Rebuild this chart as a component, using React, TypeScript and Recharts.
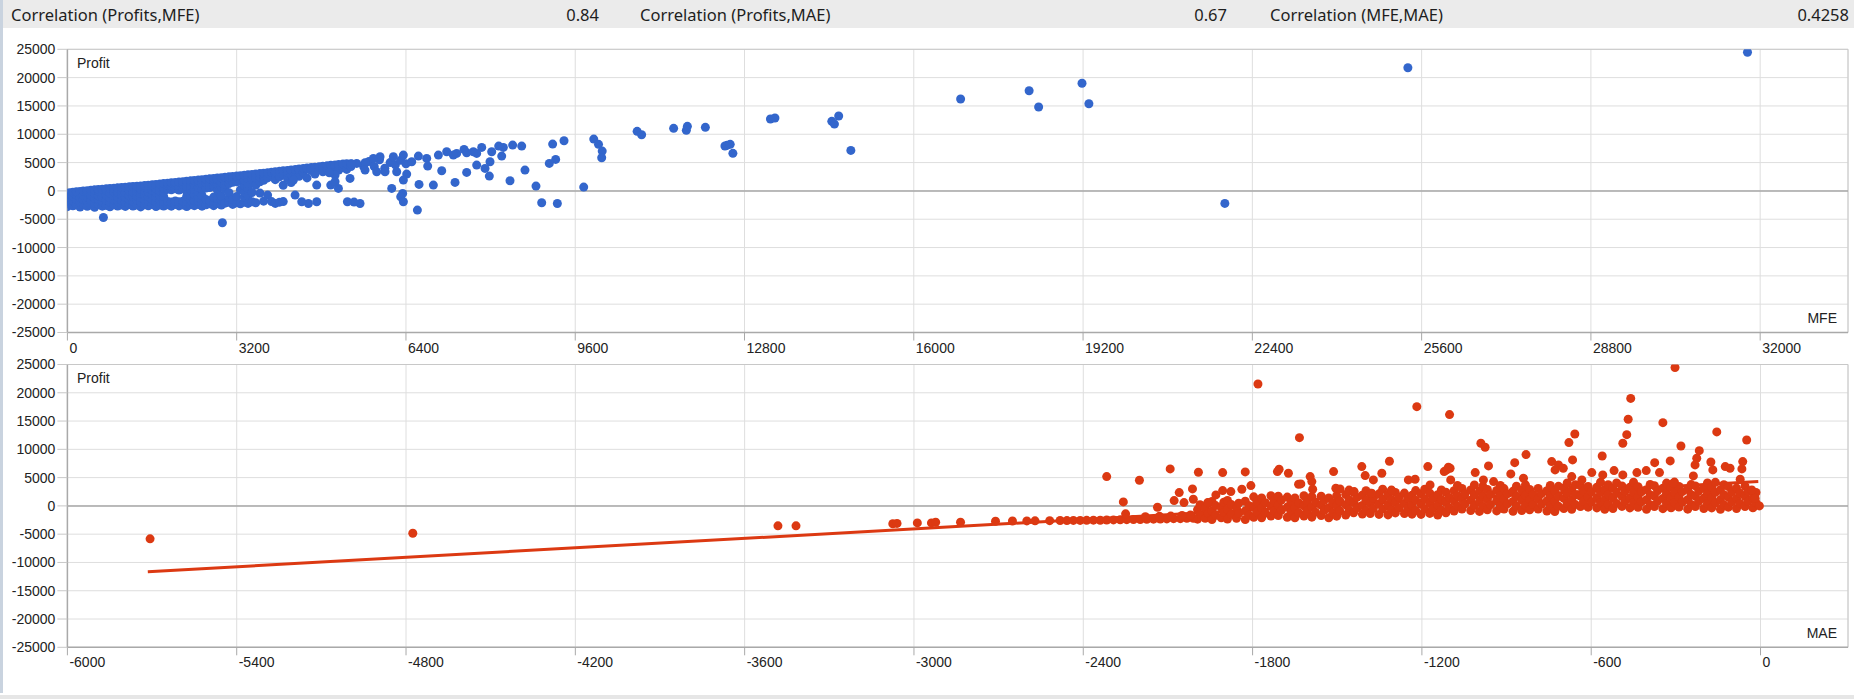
import { CartesianGrid, ReferenceLine, Scatter, ScatterChart, XAxis, YAxis } from "recharts";

const W = 1854;
const H = 699;
const BLUE = "#3366cc";
const RED = "#dc3912";
const TICK_FONT = "'Liberation Sans', Arial, sans-serif";
const HEAD_FONT = "'Noto Sans', 'Open Sans', sans-serif";

const correlations = [
  { label: "Correlation (Profits,MFE)", value: "0.84" },
  { label: "Correlation (Profits,MAE)", value: "0.67" },
  { label: "Correlation (MFE,MAE)", value: "0.4258" },
];

const profitTicks = [-25000, -20000, -15000, -10000, -5000, 0, 5000, 10000, 15000, 20000, 25000];
const mfeTicks = [0, 3200, 6400, 9600, 12800, 16000, 19200, 22400, 25600, 28800, 32000];
const maeTicks = [-6000, -5400, -4800, -4200, -3600, -3000, -2400, -1800, -1200, -600, 0];

// MFE vs profit, dense part read column by column: [mfe, profits]
const mfeBlob = [
  [0, [-2780, -1920, -1180, -430]],
  [45, [-2380, -1560, -820, -310]],
  [105, [-2640, -1730, -960, -240]],
  [170, [-2490, -1480, -650, -160]],
  [240, [-2860, -2040, -1230, -420, -90]],
  [300, [-2330, -1510, -760, -30]],
  [375, [-2710, -1840, -1060, -280, 40]],
  [445, [-2480, -1690, -720, 110]],
  [515, [-2880, -2110, -1290, -460, 190]],
  [585, [-2420, -1540, -870, -60, 230]],
  [660, [-2690, -1910, -1090, -310, 290]],
  [735, [-2560, -1640, -760, 80, 360]],
  [805, [-2790, -2010, -1240, -410, 420]],
  [880, [-2460, -1620, -890, -160, 470]],
  [950, [-2660, -1790, -1040, -260, 540]],
  [1025, [-2510, -1710, -770, 40, 600]],
  [1095, [-2740, -1960, -1140, -360, 660]],
  [1170, [-2410, -1560, -810, -20, 390, 720]],
  [1240, [-2660, -1840, -1010, -210, 770]],
  [1315, [-2500, -1710, -940, -140, 480, 820]],
  [1385, [-2830, -2010, -1190, -400, 290, 880]],
  [1460, [-2450, -1610, -790, 40, 640, 940]],
  [1530, [-2640, -1860, -1060, -260, 440, 1010]],
  [1605, [-2390, -1560, -700, 110, 740, 1080]],
  [1675, [-2750, -1940, -1110, -300, 400, 1150]],
  [1750, [-2510, -1690, -900, -60, 660, 1220]],
  [1820, [-2660, -1810, -1000, -190, 510, 1290]],
  [1895, [-2440, -1860, 290, 940, 1350]],
  [1965, [-2700, -1960, 210, 810, 1420]],
  [2040, [-2390, -1790, 360, 1060, 1490]],
  [2110, [-2650, -1910, 150, 890, 1560]],
  [2185, [-2510, -1840, 410, 1140, 1630]],
  [2255, [-2760, -1810, -990, -90, 760, 1700]],
  [2330, [-2440, -1610, -840, 110, 1010, 1770]],
  [2400, [-2600, -1760, -690, 260, 1190, 1840]],
  [2475, [-2390, -1890, -1110, -140, 660, 1490, 1910]],
  [2545, [-2700, -1700, -800, 340, 1260, 1980]],
  [2620, [-2460, -1510, 490, 1410, 2060]],
  [2690, [-2290, -1750, 610, 1540, 2130]],
  [2765, [-2610, -1890, -1090, 860, 1690, 2200]],
  [2835, [-2240, -1360, 140, 1160, 1940, 2270]],
  [2910, [-2510, -1660, -910, 640, 1460, 2340]],
  [2980, [-2160, 340, 1190, 1840, 2410]],
  [3055, [-2010, -1190, -310, 1290, 2010, 2480]],
  [3125, [-2390, -1510, 1510, 2290, 2550]],
  [3200, [-2110, -990, 1610, 2390, 2620]],
  [3270, [-2290, 190, 1690, 2490, 2690]],
  [3345, [-1990, -1100, -210, 910, 1890, 2760]],
  [3415, [-2210, -810, 510, 1310, 2210, 2830]],
  [3490, [-1910, -290, 2010, 2900]],
  [3560, [-2090, 1010, 2290, 2970]],
  [3640, [-390, 1610, 2490, 3050]],
  [3710, [-1810, 1890, 2590, 3120]],
  [3785, [-740, 2290, 3200]],
  [3860, [-1890, 2690, 3290]],
  [3930, [-2210, 1990, 3090, 3380]],
  [4010, [-1990, 2490, 3460]],
  [4080, [-1890, 990, 2990, 3540]],
  [4160, [2190, 3290, 3620]],
  [4230, [1490, 2890, 3700]],
  [4310, [3090, 3780]],
  [4380, [2590, 3590, 3860]],
  [4460, [3290, 3950]],
  [4530, [2290, 3890, 4030]],
  [4610, [3590, 4110]],
  [4680, [2990, 4190]],
  [4760, [3790, 4270]],
  [4830, [3390, 4350]],
  [4910, [3890, 4430]],
  [4980, [3490, 4510]],
  [5060, [4010, 4590]],
  [5130, [3690, 4660]],
  [5210, [4140, 4730]],
  [5280, [3790, 4790]],
  [5360, [4290, 4810]],
];

// MFE vs profit, single trades: [mfe, profit]
const mfeSpread = [
  [5600, 4300], [5700, 5200], [5800, 4300], [5900, 5500], [6000, 4000], [6100, 5000],
  [6200, 4600], [6300, 5400], [6400, 4800],
  [8588, 7916], [8417, 8093], [8241, 7680], [8153, 7916], [8021, 6915], [7832, 7680],
  [7737, 6620], [7674, 6915], [7548, 6738], [7498, 7327], [7359, 6620], [7296, 6325],
  [7170, 6915], [7013, 6325], [6792, 5736], [6635, 6149], [6509, 5148], [6351, 6325],
  [6162, 6031], [5910, 6031], [5784, 5736], [5627, 4971], [5469, 4853], [5375, 4735],
  [8210, 6149], [7989, 5148], [7737, 4559], [7895, 3970], [7976, 2615], [7548, 3263],
  [7076, 3557], [6811, 4382], [6414, 2968], [6351, 1908], [6225, 3380], [6005, 3380],
  [5847, 3380], [5627, 3675], [5343, 2203], [5060, 2792], [4952, 3204],
  [7328, 1496], [6918, 1025], [6647, 1142], [6131, 435], [6338, -448], [6301, -1037],
  [6351, -1921], [6616, -3393], [5532, -2215], [5419, -1979], [5293, -1921], [5123, 435],
  [4978, 1025], [5060, 1613], [4713, 1025], [4713, -1921], [4556, -2215], [4430, -1921],
  [4304, -743], [4272, 1908],
  [681, -4689], [2930, -5631],
  [9388, 8858], [9173, 8269], [9230, 5560], [9110, 4853], [8650, 3675], [8858, 848],
  [8966, -2097], [9262, -2215], [8367, 1790],
  [9950, 9150], [10040, 8220], [10110, 7030], [10100, 5850], [9760, 670],
  [10770, 10510], [10855, 9910], [11460, 11040], [11700, 10690], [11720, 11400], [12060, 11220],
  [12430, 7920], [12470, 8040], [12530, 8220], [12580, 6630],
  [13290, 12690], [13375, 12870], [14450, 12280], [14500, 11800], [14580, 13220], [14810, 7150],
  [16885, 16220], [18180, 17690], [18360, 14810], [19180, 19000], [19310, 15390],
  [21880, -2210], [25340, 21750], [31760, 24470],
];

// MAE vs profit, far-left trades and the thin run of stopped-out trades
const maeTail = [
  [-5707, -5830], [-4776, -4830], [-3482, -3530], [-3418, -3530], [-3075, -3150],
  [-3060, -3100], [-2988, -3010], [-2938, -3010], [-2923, -2890], [-2835, -2890],
  [-2711, -2710], [-2651, -2660], [-2600, -2650], [-2571, -2640], [-2519, -2610],
  [-2482, -2590], [-2458, -2600], [-2435, -2570], [-2411, -2560], [-2388, -2550],
  [-2364, -2520], [-2340, -2530], [-2317, -2490], [-2293, -2480], [-2269, -2460],
  [-2246, -2430], [-2222, -2420], [-2198, -2400], [-2175, -2360], [-2151, -2350],
  [-2127, -2310], [-2104, -2300], [-2080, -2260], [-2056, -2250], [-2033, -2200],
  [-2010, -2190], [-2250, -1410], [-2180, -1900], [-2130, -1850], [-2090, -1800],
  [-2050, -1700], [-2020, -1600],
];

// MAE vs profit, dense part: [mae, profits]
const maeBlob = [
  [-1995, [-2350, -650]], [-1986, [-1500, 200]],
  [-1968, [-2200, -400]], [-1957, [-1300, 500]],
  [-1944, [-2400, -850, 800]], [-1931, [-1650, 50]],
  [-1911, [-2100, -250]], [-1902, [-1150, 650]],
  [-1889, [-2330, -620, 950]], [-1875, [-1480, 230]],
  [-1857, [-2180, -420]], [-1849, [-1330, 480]],
  [-1826, [-2410, -870, 820]], [-1812, [-1640, 30]],
  [-1796, [-2000, -200, 1600]], [-1785, [-1100, 700]],
  [-1768, [-2100, -350, 1400]], [-1755, [-1250, 550]],
  [-1735, [-1800, 0, 1800]], [-1724, [-900, 900]],
  [-1709, [-1700, 120, 1700]], [-1698, [-780, 1030]],
  [-1677, [-2020, -210, 1560]], [-1664, [-1080, 680]],
  [-1650, [-2110, -360, 1390]], [-1636, [-1260, 530]],
  [-1618, [-1780, 20, 1790]], [-1607, [-880, 920]],
  [-1590, [-1990, -190, 1620]], [-1577, [-1120, 710]],
  [-1557, [-1690, 130, 1720]], [-1546, [-790, 1040]],
  [-1530, [-2090, -340, 1410]], [-1516, [-1240, 560]],
  [-1502, [-1810, -10, 1800]], [-1491, [-910, 880]],
  [-1470, [-1600, 200, 2000]], [-1458, [-700, 1100, 2800]],
  [-1442, [-1220, 600, 2400]], [-1430, [-320, 1500]],
  [-1411, [-1450, 80, 1880]], [-1398, [-830, 980, 2700]],
  [-1383, [-1350, 450, 2250]], [-1372, [-450, 1350]],
  [-1352, [-1500, 320, 2130]], [-1339, [-560, 1220, 2950]],
  [-1320, [-1590, 210, 2010]], [-1308, [-690, 1090, 2790]],
  [-1294, [-1240, 590, 2380]], [-1281, [-330, 1510]],
  [-1262, [-1360, 440, 2260]], [-1250, [-460, 1340]],
  [-1235, [-1460, 90, 1870]], [-1222, [-820, 990, 2710]],
  [-1203, [-1510, 310, 2120]], [-1190, [-570, 1230, 2940]],
  [-1172, [-1330, 460, 2240]], [-1160, [-440, 1360]],
  [-1144, [-1610, 190, 1990]], [-1131, [-710, 1110, 2810]],
  [-1115, [-1210, 610, 2410]], [-1103, [-310, 1490]],
  [-1086, [-900, 900, 2700]], [-1074, [0, 1800, 3600]],
  [-1058, [-560, 1260, 3080]], [-1047, [350, 2170]],
  [-1027, [-820, 1010, 2810]], [-1014, [80, 1920, 3700]],
  [-996, [-980, 780, 2580]], [-984, [-90, 1690, 3450]],
  [-968, [-700, 1120, 2900]], [-957, [210, 2010]],
  [-935, [-880, 920, 2720]], [-922, [20, 1820, 3620]],
  [-909, [-540, 1240, 3060]], [-897, [370, 2150]],
  [-877, [-960, 800, 2600]], [-865, [-70, 1710, 3480]],
  [-846, [-810, 990, 2830]], [-833, [90, 1900, 3720]],
  [-818, [-690, 1100, 2920]], [-806, [230, 2030]],
  [-788, [-570, 1270, 3090]], [-776, [340, 2160]],
  [-757, [-910, 890, 2690]], [-745, [10, 1790, 3610]],
  [-729, [-990, 790, 2570]], [-716, [-80, 1680, 3460]],
  [-697, [-480, 1330, 3150]], [-685, [420, 2240, 4050]],
  [-669, [-600, 1090, 2880]], [-656, [230, 1980, 3760]],
  [-638, [-100, 1720, 3560]], [-627, [820, 2650]],
  [-611, [-220, 1580, 3420]], [-599, [690, 2510]],
  [-580, [-350, 1460, 3290]], [-567, [560, 2360, 4190]],
  [-552, [-590, 1110, 2900]], [-540, [250, 1990, 3740]],
  [-523, [-470, 1350, 3170]], [-510, [440, 2230, 4070]],
  [-491, [-90, 1700, 3540]], [-480, [830, 2640]],
  [-463, [-360, 1440, 3280]], [-450, [570, 2370, 4200]],
  [-434, [-230, 1600, 3400]], [-422, [700, 2500]],
  [-404, [-610, 1080, 2870]], [-391, [210, 1960, 3780]],
  [-376, [-110, 1730, 3570]], [-365, [810, 2660]],
  [-346, [-490, 1320, 3140]], [-333, [410, 2250, 4030]],
  [-317, [-340, 1470, 3300]], [-305, [550, 2350, 4210]],
  [-289, [-210, 1590, 3430]], [-277, [680, 2520]],
  [-258, [-580, 1100, 2890]], [-246, [240, 2000, 3770]],
  [-231, [-100, 1720, 3540]], [-219, [820, 2630]],
  [-201, [-460, 1340, 3160]], [-188, [430, 2230, 4060]],
  [-173, [-350, 1460, 3280]], [-160, [560, 2380, 4170]],
  [-142, [-600, 1090, 2870]], [-130, [220, 1970, 3750]],
  [-114, [-220, 1570, 3410]], [-102, [700, 2500]],
  [-85, [-480, 1330, 3150]], [-73, [420, 2240]],
  [-55, [-100, 1710, 3500]], [-44, [810, 2620]],
  [-27, [-340, 1460]], [-16, [560, 2370]],
];

// MAE vs profit, single trades above the band: [mae, profit]
const maeSpread = [
  [-2317, 5183], [-2201, 4535], [-2092, 6538], [-1992, 5949], [-1906, 5890], [-1826, 6008],
  [-1706, 6479], [-1712, 6066], [-1673, 5772], [-1513, 6066], [-1413, 6950], [-1315, 7892],
  [-1342, 5772], [-1401, 5360], [-1372, 4594], [-1179, 6950], [-1106, 6832], [-1121, 6066],
  [-2258, 707], [-2137, -236], [-2078, 942], [-2060, 2356], [-2043, 589], [-2013, 3003],
  [-2010, 1178], [-1959, 589], [-1930, 1943], [-1906, 2709], [-1877, 2533], [-1838, 2945],
  [-1806, 3593], [-1637, 3828], [-1629, 3887], [-1596, 5183], [-1590, 4299], [-1587, 2945],
  [-1505, 3122], [-1490, 3003], [-1440, 2533], [-1248, 4594], [-1224, 4712], [-1171, 3711],
  [-1098, 4594], [-1378, 2238], [-1307, 2709],
  [-1781, 21560], [-1218, 17550], [-1102, 16140], [-1634, 12070], [-460, 19000], [-303, 24470],
  [-469, 15320], [-474, 12600], [-488, 11080], [-346, 14720], [-155, 13080], [-49, 11660],
  [-282, 10600], [-217, 9770], [-561, 8830], [-658, 12720], [-679, 11190], [-831, 9070],
  [-991, 11080], [-976, 10370], [-666, 8130], [-871, 7650], [-964, 7070], [-740, 7830],
  [-716, 7250], [-699, 6660], [-375, 7650], [-320, 7950], [-226, 8430], [-232, 7250],
  [-176, 7770], [-63, 7830], [-66, 6540], [-1112, 6360], [-1100, 6660],
  [-1011, 5890], [-982, 4594], [-946, 4300], [-885, 5654], [-840, 4889], [-728, 6361],
  [-669, 5183], [-633, 4594], [-598, 5890], [-559, 5478], [-519, 6243], [-488, 5478],
  [-438, 5890], [-405, 6243], [-358, 5890], [-309, 4005], [-238, 5301], [-169, 6361],
  [-125, 6950], [-108, 6655], [-72, 4712], [-31, 2827], [-19, 1355], [-4, 0],
];

// least squares line drawn over the MAE scatter
const maeTrend = [
  { x: -5715, y: -11650 },
  { x: -8, y: 4300 },
];

const toPoints = (cols: any[], single: any[]) => [
  ...cols.flatMap(([x, ys]: any) => ys.map((y: number) => ({ x, y }))),
  ...single.map(([x, y]: any) => ({ x, y })),
];

const mfeData = toPoints(mfeBlob, mfeSpread);
const maeData = toPoints(maeBlob, [...maeTail, ...maeSpread]);

const XTick = ({ x, y, payload }: any) => (
  <text x={x + 2} y={y + 10} fill="#222" fontSize={14} fontFamily={TICK_FONT}>
    {payload.value}
  </text>
);

const Panel = ({ data, color, xTicks, xDomain, top, margin, children }: any) => (
  <div style={{ position: "absolute", left: 0, top, width: W, height: 330 }}>
    <ScatterChart width={W} height={330} margin={margin}>
      <CartesianGrid stroke="#dedede" />
      <XAxis
        type="number"
        dataKey="x"
        domain={xDomain}
        ticks={xTicks}
        interval={0}
        allowDataOverflow
        height={30}
        tickSize={8}
        tickLine={{ stroke: "#a9a9a9" }}
        axisLine={{ stroke: "#a9a9a9", strokeWidth: 1.5 }}
        tick={<XTick />}
      />
      <YAxis
        type="number"
        dataKey="y"
        domain={[-25000, 25000]}
        ticks={profitTicks}
        interval={0}
        allowDataOverflow
        width={67.4}
        tickSize={10}
        tickLine={{ stroke: "#c8c8c8" }}
        axisLine={{ stroke: "#a9a9a9", strokeWidth: 1.5 }}
        tick={{ fill: "#222", fontSize: 14, fontFamily: TICK_FONT }}
      />
      <ReferenceLine y={25000} stroke="#c8c8c8" />
      <ReferenceLine x={xDomain[1]} stroke="#c8c8c8" />
      <ReferenceLine y={0} stroke="#a9a9a9" strokeWidth={1.5} />
      <Scatter
        data={data}
        isAnimationActive={false}
        shape={(p: any) => <circle cx={p.cx} cy={p.cy} r={4.5} fill={color} />}
      />
      {children}
    </ScatterChart>
  </div>
);

export default function App() {
  return (
    <div style={{ position: "absolute", left: 0, top: 0, width: W, height: H, overflow: "hidden", background: "#fff" }}>
      <div style={{ position: "absolute", left: 0, top: 0, width: W, height: 28, background: "#ebebeb" }} />
      <div style={{ position: "absolute", left: 0, top: 695, width: W, height: 4, background: "#e6e6e6" }} />

      <Panel
        data={mfeData}
        color={BLUE}
        xTicks={mfeTicks}
        xDomain={[0, 33660]}
        top={36}
        margin={{ top: 13.3, right: 6, bottom: 3.5, left: 0 }}
      />
      <Panel
        data={maeData}
        color={RED}
        xTicks={maeTicks}
        xDomain={[-6000, 310]}
        top={352}
        margin={{ top: 12.5, right: 6, bottom: 4.7, left: 0 }}
      >
        <ReferenceLine segment={maeTrend} stroke={RED} strokeWidth={3} ifOverflow="visible" />
      </Panel>

      <svg width={W} height={H} style={{ position: "absolute", left: 0, top: 0, pointerEvents: "none" }}>
        <g fontFamily={HEAD_FONT} fontSize={16.5} fill="#1e1e1e">
          <text x={11} y={21}>{correlations[0].label}</text>
          <text x={599} y={21} textAnchor="end">{correlations[0].value}</text>
          <text x={640} y={21}>{correlations[1].label}</text>
          <text x={1227} y={21} textAnchor="end">{correlations[1].value}</text>
          <text x={1270} y={21}>{correlations[2].label}</text>
          <text x={1849} y={21} textAnchor="end">{correlations[2].value}</text>
        </g>
        <g fontFamily={TICK_FONT} fontSize={14} fill="#222">
          <text x={77} y={68}>Profit</text>
          <text x={1837} y={323} textAnchor="end">MFE</text>
          <text x={77} y={383}>Profit</text>
          <text x={1837} y={638} textAnchor="end">MAE</text>
        </g>
      </svg>
      <div style={{ position: "absolute", left: 0, top: 0, width: 3, height: 693, background: "#c9d3df" }} />
    </div>
  );
}
